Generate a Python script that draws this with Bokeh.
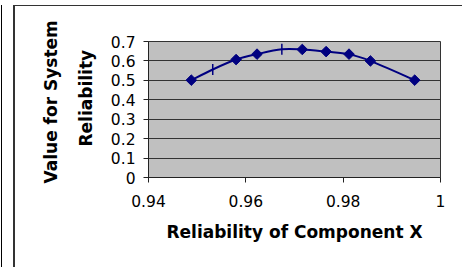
import numpy as np
from math import pi
from bokeh.plotting import figure
from bokeh.models import Range1d, FixedTicker, Title
from bokeh.embed import file_html
from bokeh.resources import INLINE

# Data
comp_x = [0.9488, 0.958, 0.9623, 0.9716, 0.9765, 0.9812, 0.9856, 0.9947]
sys_val = [0.501, 0.607, 0.635, 0.659, 0.648, 0.635, 0.600, 0.501]
dash_x = [0.9532, 0.9674]
dash_y = [0.556, 0.660]
x_ticks = [0.94, 0.96, 0.98, 1.0]
y_ticks = [0, 0.1, 0.2, 0.3, 0.4, 0.5, 0.6, 0.7]

FONT = "DejaVu Sans"
NAVY = "#000080"

p = figure(width=449, height=262, output_backend="svg", toolbar_location=None,
           x_range=Range1d(0.94, 1.0), y_range=Range1d(0, 0.7),
           min_border_left=133, min_border_right=24, min_border_top=35, min_border_bottom=91)
p.styles = {"margin-left": "13px", "margin-top": "5px",
            "border-left": "2px solid #333333", "border-top": "1px solid #333333",
            "box-shadow": "-11px 0 0 0 #ffffff, -12px 0 0 0 #000000"}

p.background_fill_color = "#C0C0C0"
p.border_fill_color = "white"
p.outline_line_color = "#333333"
p.outline_line_width = 1

for ax, ticks in ((p.xaxis, x_ticks), (p.yaxis, y_ticks)):
    ax.ticker = FixedTicker(ticks=ticks)
    ax.minor_tick_line_color = None
    ax.major_tick_in = 0
    ax.major_tick_out = 5
    ax.axis_line_color = "#222222"
    ax.major_tick_line_color = "#222222"
    ax.major_label_text_font = FONT
    ax.major_label_text_font_size = "15.5px"
    ax.major_label_text_color = "black"
p.xaxis.major_label_standoff = 12
p.yaxis.major_label_standoff = 8
p.xaxis.major_label_overrides = {0.94: "0.94", 0.96: "0.96", 0.98: "0.98", 1.0: "1"}
p.yaxis.major_label_overrides = {0: "0", 0.1: "0.1", 0.2: "0.2", 0.3: "0.3", 0.4: "0.4",
                                 0.5: "0.5", 0.6: "0.6", 0.7: "0.7"}

p.xgrid.grid_line_color = None
p.ygrid.grid_line_color = "#333333"
p.ygrid.grid_line_width = 1

# smoothed line (Catmull-Rom -> Bezier) through all points
allx = comp_x + dash_x
ally = sys_val + dash_y
order = np.argsort(allx)
P = np.column_stack([np.array(allx)[order], np.array(ally)[order]])
Pext = np.vstack([P[0], P, P[-1]])
x0, y0 = P[:-1, 0], P[:-1, 1]
x1, y1 = P[1:, 0], P[1:, 1]
prev = Pext[:-3]
nxt = Pext[3:]
cx0 = x0 + (x1 - prev[:, 0]) / 6
cy0 = y0 + (y1 - prev[:, 1]) / 6
cx1 = x1 - (nxt[:, 0] - x0) / 6
cy1 = y1 - (nxt[:, 1] - y0) / 6
p.bezier(x0=x0, y0=y0, x1=x1, y1=y1, cx0=cx0, cy0=cy0, cx1=cx1, cy1=cy1,
         line_color=NAVY, line_width=2)

p.scatter(comp_x, sys_val, marker="square", angle=pi / 4, size=7.5,
          fill_color=NAVY, line_color=NAVY)
p.scatter(dash_x, dash_y, marker="dash", angle=pi / 2, size=11,
          line_color=NAVY, line_width=1.5)

# titles
def mk_title(text, align="center", offset=0, standoff=0):
    return Title(text=text, align=align, offset=offset, standoff=standoff,
                 text_font=FONT, text_font_size="17px", text_font_style="bold",
                 text_color="black")

p.add_layout(mk_title("Reliability", align="left", offset=31, standoff=23), "left")
p.add_layout(mk_title("Value for System", align="left", offset=-6, standoff=3), "left")
p.add_layout(mk_title("Reliability of Component X", standoff=21), "below")

open("out.html", "w").write(file_html(p, INLINE))
